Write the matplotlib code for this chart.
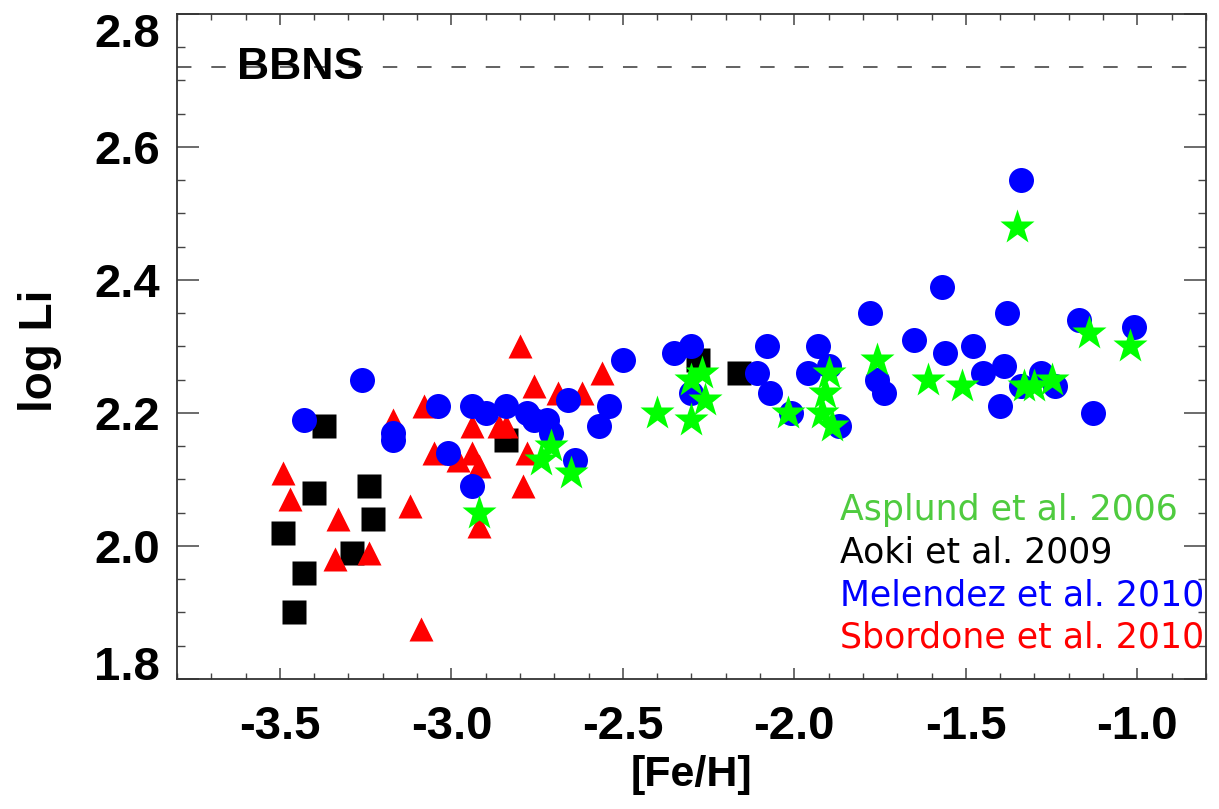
import matplotlib
matplotlib.use("Agg")
import matplotlib.pyplot as plt
import numpy as np
from matplotlib.ticker import MultipleLocator
from matplotlib.transforms import ScaledTranslation

# Asplund et al. 2006 (green stars)
asplund_feh = [-2.92, -2.74, -2.71, -2.65, -2.40, -2.30, -2.27, -2.26, -2.30, -2.02,
               -1.90, -1.91, -1.92, -1.89, -1.76, -1.61, -1.51, -1.35, -1.33, -1.30,
               -1.25, -1.14, -1.02]
asplund_li = [2.05, 2.13, 2.15, 2.11, 2.20, 2.25, 2.26, 2.22, 2.19, 2.20,
              2.26, 2.23, 2.20, 2.18, 2.28, 2.25, 2.24, 2.48, 2.24, 2.24,
              2.25, 2.32, 2.30]

# Aoki et al. 2009 (black squares)
aoki_feh = [-3.37, -3.40, -3.24, -3.23, -3.49, -3.29, -3.43, -3.46, -2.84, -2.28, -2.16]
aoki_li = [2.18, 2.08, 2.09, 2.04, 2.02, 1.99, 1.96, 1.90, 2.16, 2.28, 2.26]

# Melendez et al. 2010 (blue circles)
melendez_feh = [-3.43, -3.26, -3.17, -3.17, -3.04, -3.01, -2.94, -2.94, -2.90, -2.84,
                -2.78, -2.76, -2.72, -2.71, -2.66, -2.64, -2.57, -2.54, -2.50, -2.35,
                -2.30, -2.30, -2.08, -2.11, -2.07, -2.01, -1.93, -1.90, -1.96, -1.87,
                -1.78, -1.76, -1.74, -1.65, -1.56, -1.57, -1.48, -1.45, -1.34, -1.38,
                -1.39, -1.40, -1.34, -1.28, -1.24, -1.17, -1.13, -1.01]
melendez_li = [2.19, 2.25, 2.17, 2.16, 2.21, 2.14, 2.09, 2.21, 2.20, 2.21,
               2.20, 2.19, 2.19, 2.17, 2.22, 2.13, 2.18, 2.21, 2.28, 2.29,
               2.30, 2.23, 2.30, 2.26, 2.23, 2.20, 2.30, 2.27, 2.26, 2.18,
               2.35, 2.25, 2.23, 2.31, 2.29, 2.39, 2.30, 2.26, 2.55, 2.35,
               2.27, 2.21, 2.24, 2.26, 2.24, 2.34, 2.20, 2.33]

# Sbordone et al. 2010 (red triangles)
sbordone_feh = [-3.49, -3.47, -3.33, -3.34, -3.24, -3.12, -3.17, -3.08, -3.05, -3.09,
                -2.98, -2.94, -2.94, -2.92, -2.92, -2.86, -2.84, -2.80, -2.76, -2.79,
                -2.78, -2.69, -2.62, -2.56]
sbordone_li = [2.11, 2.07, 2.04, 1.98, 1.99, 2.06, 2.19, 2.21, 2.14, 1.875,
               2.13, 2.18, 2.14, 2.12, 2.03, 2.18, 2.18, 2.30, 2.24, 2.09,
               2.14, 2.23, 2.23, 2.26]

BBNS_LI = 2.72

LEGEND = [
    ("Asplund et al. 2006", "#4fcb3f"),
    ("Aoki et al. 2009", "black"),
    ("Melendez et al. 2010", "#0000ff"),
    ("Sbordone et al. 2010", "#ff0000"),
]

fig = plt.figure(figsize=(12.19, 8.09), dpi=100)
ax = fig.add_axes([0.1452, 0.1607, 0.8441, 0.8220])

ax.axhline(BBNS_LI, color="#555555", lw=1.3, ls=(0, (8, 11)), zorder=1)
ax.text(-3.625, BBNS_LI, "BBNS", fontsize=32, fontweight="bold",
        family="Liberation Sans", va="center", ha="left", zorder=6)

ax.plot(aoki_feh, aoki_li, ls="none", marker="s", ms=17.5, mfc="black", mec="none", zorder=2)
ax.plot(sbordone_feh, sbordone_li, ls="none", marker="^", ms=17.5, mfc="#ff0000", mec="none", zorder=3)
ax.plot(melendez_feh, melendez_li, ls="none", marker="o", ms=18, mfc="#0000ff", mec="none", zorder=4)
ax.plot(asplund_feh, asplund_li, ls="none", marker="*", ms=26, mfc="#00ff00", mec="none", zorder=5)

for i, (txt, col) in enumerate(LEGEND):
    ax.text(0.644, 0.239 - i * 0.064, txt, color=col, fontsize=25,
            family="DejaVu Sans", transform=ax.transAxes, va="baseline", ha="left")

ax.set_xlim(-3.8, -0.8)
ax.set_ylim(1.8, 2.8)
ax.xaxis.set_major_locator(MultipleLocator(0.5))
ax.xaxis.set_minor_locator(MultipleLocator(0.1))
ax.yaxis.set_major_locator(MultipleLocator(0.2))
ax.yaxis.set_minor_locator(MultipleLocator(0.05))
ax.xaxis.set_major_formatter(plt.FuncFormatter(lambda v, p: f"{v:.1f}"))
ax.yaxis.set_major_formatter(plt.FuncFormatter(lambda v, p: f"{v:.1f}"))

ax.tick_params(which="both", direction="in", top=True, right=True, color="#444444")
ax.tick_params(axis="x", which="major", length=8, width=1.1, pad=19)
ax.tick_params(axis="x", which="minor", length=4.5, width=1.0)
ax.tick_params(axis="y", which="major", length=16, width=1.1, pad=12)
ax.tick_params(axis="y", which="minor", length=6, width=1.0)
for lbl in ax.get_xticklabels() + ax.get_yticklabels():
    lbl.set_fontsize(34)
    lbl.set_fontweight("bold")
    lbl.set_family("Liberation Sans")
for s in ax.spines.values():
    s.set_color("#333333")
    s.set_linewidth(1.3)

# shift the end labels inward, as in the original figure
for lbl in ax.get_yticklabels():
    y = lbl.get_position()[1]
    if np.isclose(y, 2.8):
        lbl.set_transform(lbl.get_transform() + ScaledTranslation(0, -0.16, fig.dpi_scale_trans))
    elif np.isclose(y, 1.8):
        lbl.set_transform(lbl.get_transform() + ScaledTranslation(0, 0.16, fig.dpi_scale_trans))

ax.set_xlabel("[Fe/H]", fontsize=31, fontweight="bold", family="Liberation Sans")
ax.set_ylabel("log Li", fontsize=33, fontweight="bold", family="Liberation Sans")
ax.xaxis.set_label_coords(0.5, -0.115)
ax.yaxis.set_label_coords(-0.112, 0.493)

fig.savefig("out.png", dpi=100)
